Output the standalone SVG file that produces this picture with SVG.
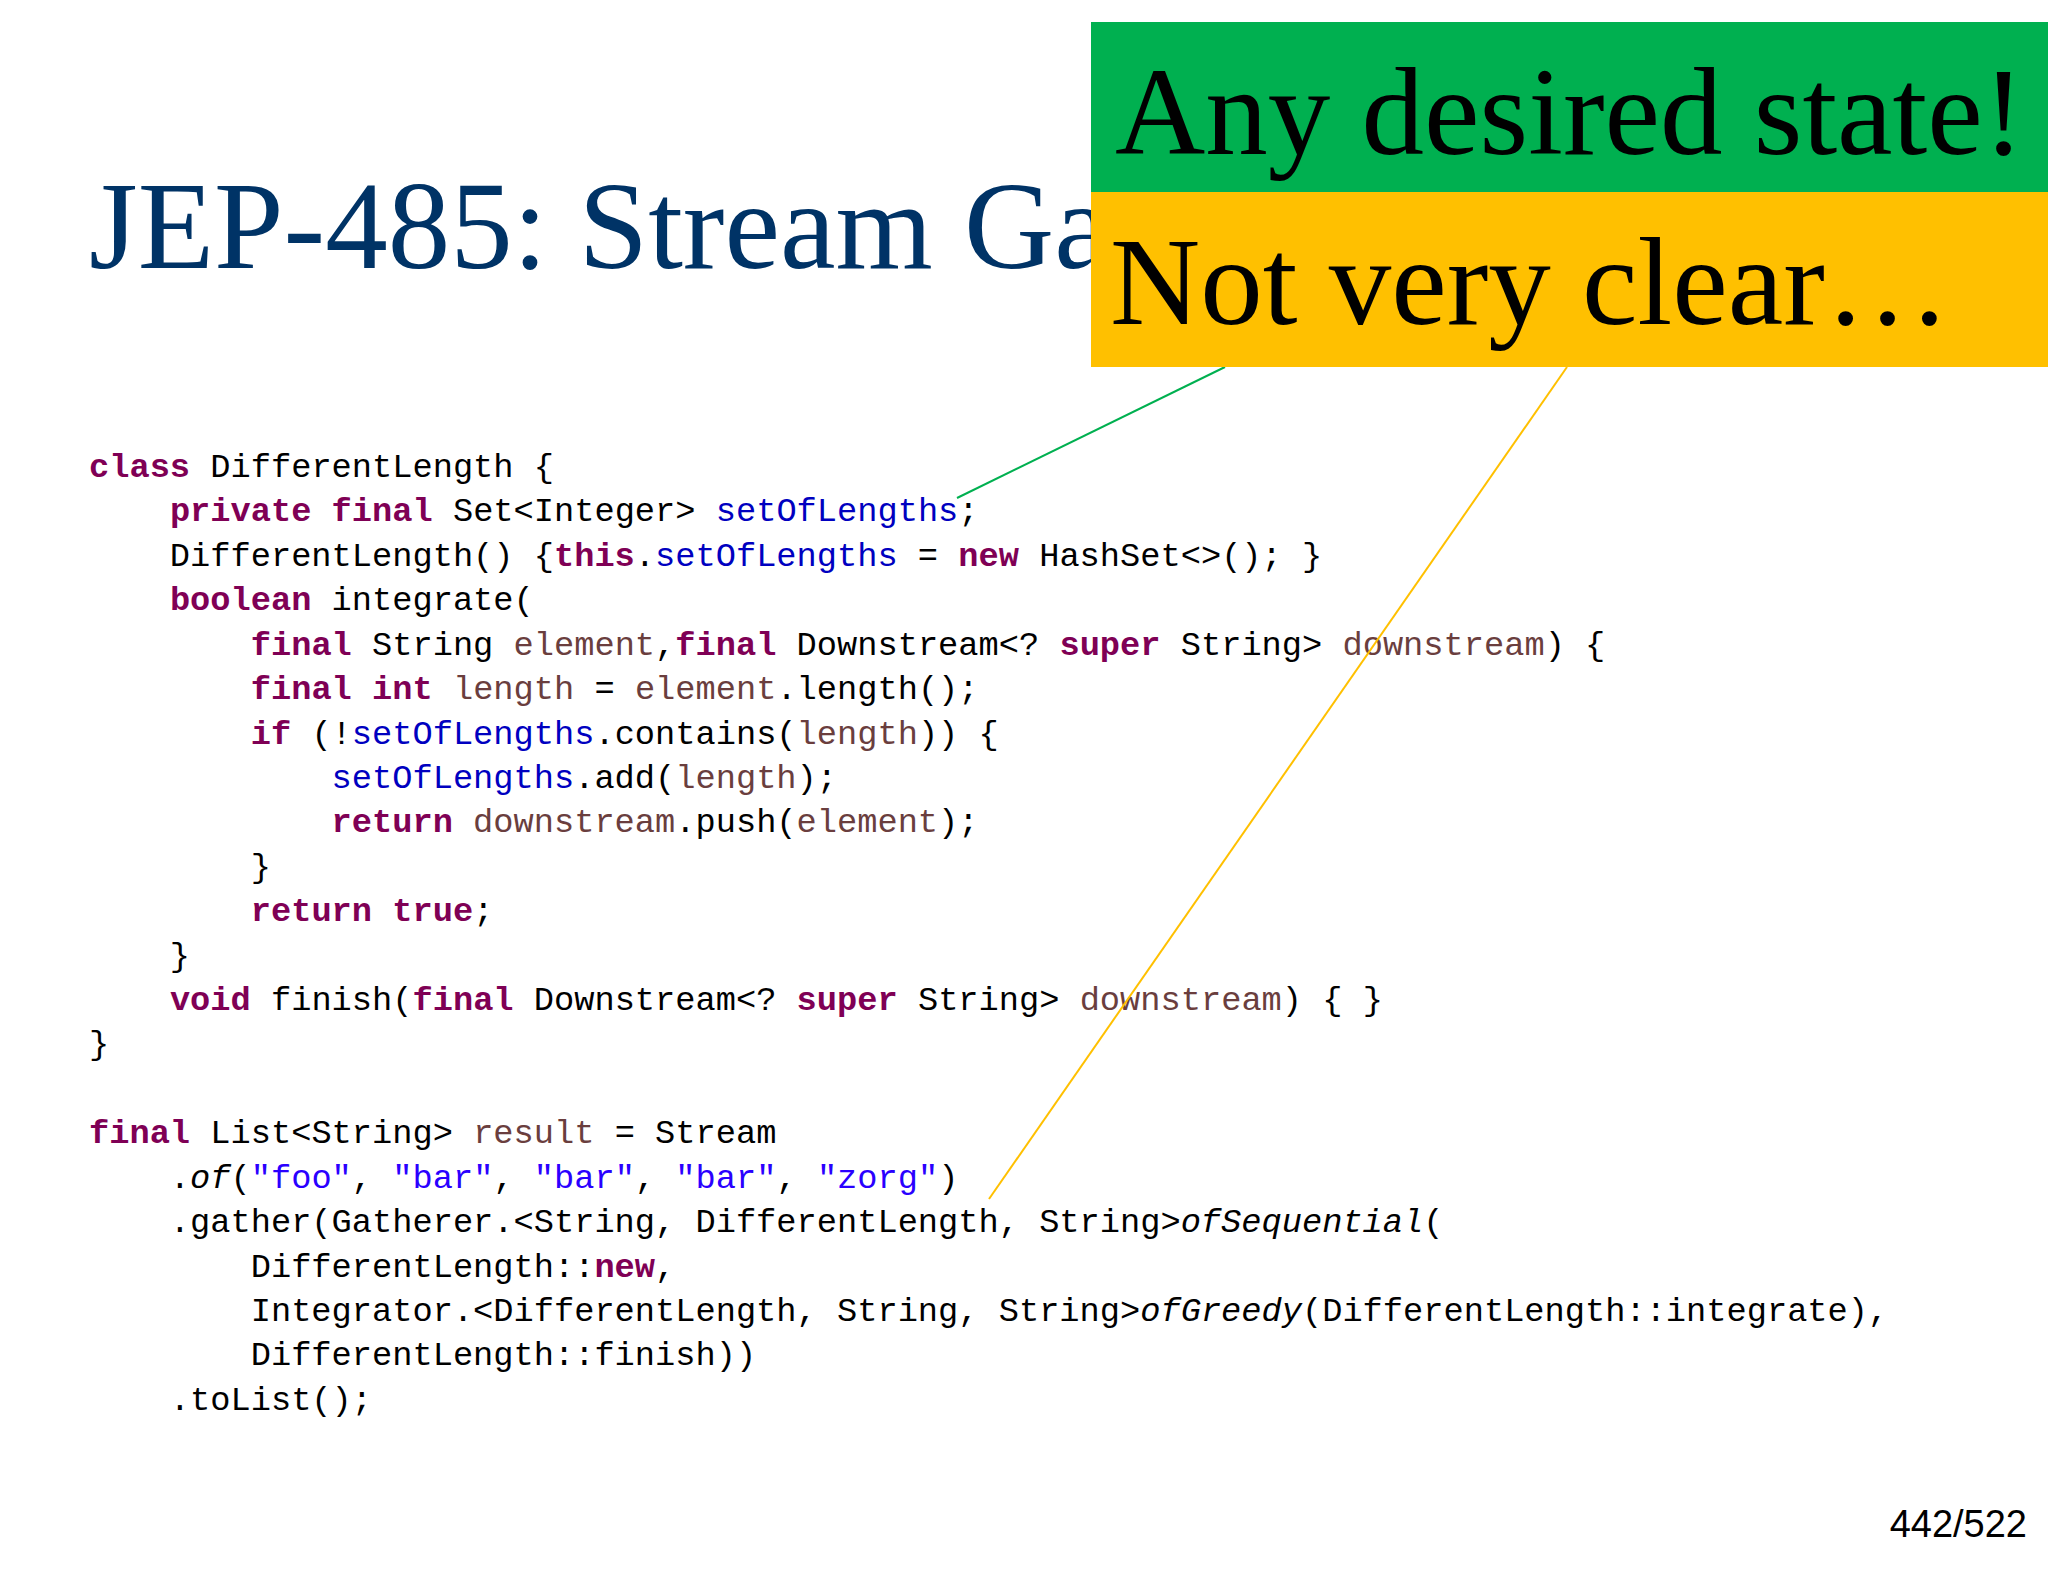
<svg xmlns="http://www.w3.org/2000/svg" width="2048" height="1582" viewBox="0 0 2048 1582">
<style>
.c{font-family:"Liberation Mono",monospace;font-size:33.7px;fill:#000;white-space:pre}
.k{fill:#7f0055;font-weight:bold}
.f{fill:#0000c0}
.v{fill:#6a3e3e}
.s{fill:#2a00ff}
.i{font-style:italic}
.big{font-family:"Liberation Serif",serif;font-size:125px;fill:#000}
</style>
<rect width="2048" height="1582" fill="#fff"/>
<g id="title"><text x="89" y="268" font-family="Liberation Serif,serif" font-size="125" fill="#003366">JEP-485: Stream Gatherers</text></g>
<g id="code">
<text class="c" x="89" y="477"><tspan class="k">class</tspan> DifferentLength {</text>
<text class="c" x="89" y="521">    <tspan class="k">private</tspan> <tspan class="k">final</tspan> Set&lt;Integer&gt; <tspan class="f">setOfLengths</tspan>;</text>
<text class="c" x="89" y="566">    DifferentLength() {<tspan class="k">this</tspan>.<tspan class="f">setOfLengths</tspan> = <tspan class="k">new</tspan> HashSet&lt;&gt;(); }</text>
<text class="c" x="89" y="610">    <tspan class="k">boolean</tspan> integrate(</text>
<text class="c" x="89" y="655">        <tspan class="k">final</tspan> String <tspan class="v">element</tspan>,<tspan class="k">final</tspan> Downstream&lt;? <tspan class="k">super</tspan> String&gt; <tspan class="v">downstream</tspan>) {</text>
<text class="c" x="89" y="699">        <tspan class="k">final</tspan> <tspan class="k">int</tspan> <tspan class="v">length</tspan> = <tspan class="v">element</tspan>.length();</text>
<text class="c" x="89" y="744">        <tspan class="k">if</tspan> (!<tspan class="f">setOfLengths</tspan>.contains(<tspan class="v">length</tspan>)) {</text>
<text class="c" x="89" y="788">            <tspan class="f">setOfLengths</tspan>.add(<tspan class="v">length</tspan>);</text>
<text class="c" x="89" y="832">            <tspan class="k">return</tspan> <tspan class="v">downstream</tspan>.push(<tspan class="v">element</tspan>);</text>
<text class="c" x="89" y="877">        }</text>
<text class="c" x="89" y="921">        <tspan class="k">return</tspan> <tspan class="k">true</tspan>;</text>
<text class="c" x="89" y="966">    }</text>
<text class="c" x="89" y="1010">    <tspan class="k">void</tspan> finish(<tspan class="k">final</tspan> Downstream&lt;? <tspan class="k">super</tspan> String&gt; <tspan class="v">downstream</tspan>) { }</text>
<text class="c" x="89" y="1054">}</text>
<text class="c" x="89" y="1143"><tspan class="k">final</tspan> List&lt;String&gt; <tspan class="v">result</tspan> = Stream</text>
<text class="c" x="89" y="1188">    .<tspan class="i">of</tspan>(<tspan class="s">"foo"</tspan>, <tspan class="s">"bar"</tspan>, <tspan class="s">"bar"</tspan>, <tspan class="s">"bar"</tspan>, <tspan class="s">"zorg"</tspan>)</text>
<text class="c" x="89" y="1232">    .gather(Gatherer.&lt;String, DifferentLength, String&gt;<tspan class="i">ofSequential</tspan>(</text>
<text class="c" x="89" y="1277">        DifferentLength::<tspan class="k">new</tspan>,</text>
<text class="c" x="89" y="1321">        Integrator.&lt;DifferentLength, String, String&gt;<tspan class="i">ofGreedy</tspan>(DifferentLength::integrate),</text>
<text class="c" x="89" y="1365">        DifferentLength::finish))</text>
<text class="c" x="89" y="1410">    .toList();</text>
</g>
<g id="connectors">
<line x1="1225" y1="367" x2="957" y2="498" stroke="#00b050" stroke-width="2"/>
<line x1="1567" y1="367" x2="989" y2="1199" stroke="#ffc000" stroke-width="2"/>
</g>
<g id="green"><rect x="1091" y="22" width="957" height="170" fill="#00b050"/><text class="big" x="1115" y="154">Any desired state!</text></g>
<g id="yellow"><rect x="1091" y="192" width="957" height="175" fill="#ffc000"/><text class="big" x="1110" y="324">Not very clear…</text></g>
<g id="page"><text x="2027" y="1537" text-anchor="end" font-family="Liberation Sans,sans-serif" font-size="38" fill="#000">442/522</text></g>
</svg>
